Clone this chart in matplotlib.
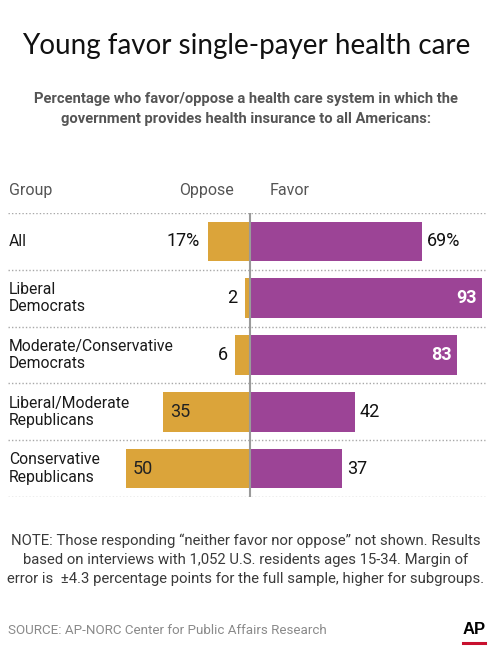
import matplotlib
matplotlib.use("Agg")
import matplotlib.pyplot as plt
from matplotlib.lines import Line2D

# data
groups = ["All", "Liberal\nDemocrats", "Moderate/Conservative\nDemocrats",
          "Liberal/Moderate\nRepublicans", "Conservative\nRepublicans"]
oppose = [17, 2, 6, 35, 50]
favor = [69, 93, 83, 42, 37]

W, H = 492, 650
GOLD = "#DBA43A"
PURPLE = "#9C4496"
NARROW = ["Roboto", "DejaVu Sans"]
BODY = ["Roboto", "DejaVu Sans"]

fig = plt.figure(figsize=(W / 100, H / 100), dpi=100)
fig.patch.set_facecolor("white")


def fy(py):
    return 1 - py / H


def fx(px):
    return px / W


# bars axes: full width, rows between y=213px and y=497px
ax = fig.add_axes([0, fy(497), 1, (497 - 213) / H])
ax.set_xlim(-250 / 2.49, (W - 250) / 2.49)
ax.set_ylim(len(groups) - 0.5, -0.5)
ax.axis("off")

ypos = list(range(len(groups)))
ax.barh(ypos, [-v for v in oppose], height=0.70, color=GOLD, zorder=2)
ax.barh(ypos, favor, height=0.70, color=PURPLE, zorder=2)

# dotted separators
for b in [i - 0.5 for i in range(len(groups) + 1)]:
    ax.plot([-242 / 2.49, 235 / 2.49], [b, b], ls=(0, (1, 1.5)), color="#a8a8a8", lw=1, zorder=1)
ax.plot([0, 0], [-0.5, len(groups) - 0.5 + 0.05], color="#9a9a9a", lw=1.5, zorder=3)

ytr = ax.get_yaxis_transform()
for i, (g, o, f) in enumerate(zip(groups, oppose, favor)):
    ax.text(fx(9), i, g, transform=ytr, ha="left", va="center", fontsize=11.3,
            color="#1a1a1a", family=BODY, linespacing=1.2)
    suffix = "%" if i == 0 else ""
    # oppose label
    if o >= 30:
        ax.text(-o + 3, i, f"{o}{suffix}", ha="left", va="center", fontsize=13,
                color="#222222", family=BODY, zorder=4)
    else:
        ax.text(-o - 3, i, f"{o}{suffix}", ha="right", va="center", fontsize=13,
                color="#111111", family=BODY, zorder=4)
    # favor label
    if f >= 80:
        ax.text(f - 2, i, f"{f}{suffix}", ha="right", va="center", fontsize=13,
                color="white", fontweight="bold", family=BODY, zorder=4)
    else:
        ax.text(f + 2, i, f"{f}{suffix}", ha="left", va="center", fontsize=13,
                color="#111111", family=BODY, zorder=4)

# title and subtitle
fig.text(0.5, fy(46), "Young favor single-payer health care", ha="center", va="center",
         fontsize=20, color="#111111", family=["Lato", "DejaVu Sans"])
fig.text(0.5, fy(109), "Percentage who favor/oppose a health care system in which the\n"
         "government provides health insurance to all Americans:",
         ha="center", va="center", fontsize=10.6, fontweight="bold", color="#555555",
         family=NARROW, linespacing=1.6)

# column headers
fig.text(fx(9), fy(190), "Group", ha="left", va="center", fontsize=11.5, color="#555555", family=NARROW)
fig.text(fx(234), fy(190), "Oppose", ha="right", va="center", fontsize=11.5, color="#555555", family=NARROW)
fig.text(fx(270), fy(190), "Favor", ha="left", va="center", fontsize=11.5, color="#555555", family=NARROW)

# note
fig.text(0.5, fy(560), "NOTE: Those responding \u201cneither favor nor oppose\u201d not shown. Results\n"
         "based on interviews with 1,052 U.S. residents ages 15-34. Margin of\n"
         "error is  \u00b14.3 percentage points for the full sample, higher for subgroups.",
         ha="center", va="center", fontsize=10.7, color="#3a3a3a", family=BODY, linespacing=1.45)

# source and AP logo
fig.text(fx(8), fy(630), "SOURCE: AP-NORC Center for Public Affairs Research", ha="left", va="center",
         fontsize=9.6, color="#8a8a8a", family=NARROW)
fig.text(fx(474), fy(629), "AP", ha="center", va="center", fontsize=12, fontweight="bold",
         color="black", family=["Liberation Sans", "DejaVu Sans"])
fig.add_artist(Line2D([fx(463), fx(485)], [fy(643), fy(643)], color="#c8102e", lw=2.2))

fig.savefig("out.png", dpi=100, facecolor="white")
